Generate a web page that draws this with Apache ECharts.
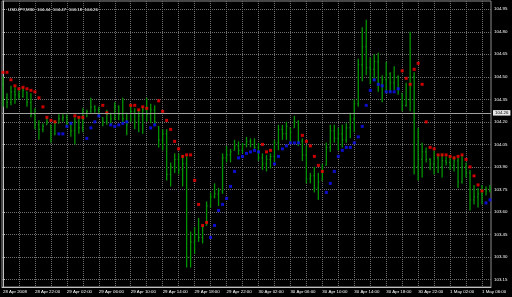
<!DOCTYPE html>
<html><head><meta charset="utf-8">
<script src="https://cdn.jsdelivr.net/npm/echarts@6/dist/echarts.min.js"></script>
<style>html,body{margin:0;padding:0;background:#000;}#c{width:512px;height:297px;}</style>
</head><body><div id="c"></div>
<script>
const titleText = 'USDJPY,M30  104.44  104.47  104.18  104.26';
const bidPrice = 104.26;
const timeLabels = ['28 Apr 2008','28 Apr 22:00','29 Apr 02:00','29 Apr 06:00','29 Apr 10:00','29 Apr 14:00','29 Apr 18:00','29 Apr 22:00','30 Apr 02:00','30 Apr 06:00','30 Apr 10:00','30 Apr 14:00','30 Apr 18:00','30 Apr 22:00','1 May 02:00','1 May 06:00'];
const timeLabelIdx = [0,8,16,24,32,40,48,56,64,72,80,88,96,104,112,120];
const gridIdx = [0,4,8,12,16,20,24,28,32,36,40,44,48,52,56,60,64,68,72,76,80,84,88,92,96,100,104,108,112,116,120];
const priceTicks = [103.15,103.30,103.45,103.60,103.75,103.90,104.05,104.20,104.35,104.50,104.65,104.80,104.95];

const highs = [104.50,104.39,104.44,104.43,104.41,104.43,104.40,104.39,104.29,104.21,
104.19,104.23,104.18,104.21,104.25,104.25,104.25,104.20,104.23,104.23,
104.29,104.28,104.36,104.31,104.30,104.23,104.28,104.26,104.33,104.31,
104.36,104.26,104.31,104.29,104.28,104.30,104.36,104.32,104.31,104.17,
104.15,104.15,103.93,103.99,103.99,103.98,103.97,103.47,103.50,103.56,
103.51,103.67,103.73,103.79,103.76,103.99,104.04,104.02,104.08,104.07,
104.06,104.10,104.09,104.09,104.06,103.99,103.98,103.99,104.08,104.18,
104.18,104.20,104.16,104.24,104.21,104.09,104.04,103.86,103.90,103.86,
103.92,104.06,104.18,104.18,104.16,104.18,104.19,104.26,104.35,104.62,
104.83,104.88,104.63,104.65,104.66,104.51,104.60,104.53,104.57,104.51,
104.39,104.46,104.80,104.53,104.16,104.06,104.03,103.96,104.01,103.98,
103.99,103.97,103.98,103.97,103.96,103.98,103.93,103.88,103.78,103.76,
103.78,103.77,103.78];
const lows = [104.30,104.29,104.31,104.32,104.35,104.36,104.30,104.23,104.15,104.08,
104.13,104.18,104.06,104.11,104.19,104.20,104.17,104.10,104.05,104.12,
104.13,104.23,104.26,104.26,104.23,104.17,104.18,104.18,104.21,104.21,
104.19,104.11,104.20,104.15,104.13,104.12,104.20,104.19,104.18,104.03,
104.01,103.81,103.77,103.86,103.85,103.77,103.23,103.23,103.32,103.40,
103.39,103.51,103.63,103.69,103.64,103.72,103.93,103.93,104.01,103.98,
103.99,104.03,104.03,104.02,103.94,103.88,103.87,103.89,103.93,104.01,
104.08,104.08,104.07,104.16,104.04,103.94,103.79,103.79,103.73,103.68,
103.81,103.91,104.00,104.06,104.01,104.03,104.06,104.09,104.13,104.30,
104.47,104.51,104.45,104.47,104.40,104.33,104.39,104.40,104.41,104.38,
104.27,104.30,104.27,103.85,103.81,103.83,103.93,103.88,103.85,103.86,
103.83,103.91,103.88,103.87,103.76,103.79,103.83,103.61,103.65,103.63,
103.65,103.71,103.73];
const closes = [104.36,104.33,104.40,104.38,104.37,104.41,104.33,104.25,104.18,104.15,
104.17,104.20,104.12,104.19,104.22,104.23,104.19,104.14,104.20,104.16,
104.26,104.27,104.30,104.28,104.24,104.20,104.25,104.22,104.30,104.25,
104.22,104.18,104.27,104.20,104.24,104.28,104.25,104.28,104.20,104.08,
104.12,103.85,103.90,103.95,103.88,103.92,103.30,103.40,103.45,103.43,
103.50,103.64,103.70,103.72,103.74,103.96,103.98,104.00,104.04,104.01,
104.05,104.07,104.05,104.03,103.96,103.92,103.95,103.97,104.06,104.15,
104.12,104.17,104.13,104.20,104.07,103.98,103.82,103.84,103.76,103.80,
103.90,104.03,104.14,104.09,104.12,104.08,104.16,104.22,104.32,104.58,
104.70,104.56,104.55,104.60,104.45,104.48,104.52,104.46,104.50,104.42,
104.31,104.35,104.50,103.90,103.95,104.00,103.95,103.92,103.96,103.90,
103.94,103.93,103.91,103.94,103.80,103.90,103.86,103.68,103.70,103.72,
103.75,103.74,103.76];
const opens = [104.45,104.36,104.33,104.40,104.38,104.37,104.40,104.33,104.25,104.18,
104.15,104.18,104.18,104.12,104.19,104.22,104.23,104.19,104.14,104.20,
104.16,104.26,104.27,104.30,104.28,104.23,104.20,104.25,104.22,104.30,
104.25,104.22,104.20,104.27,104.20,104.24,104.28,104.25,104.28,104.17,
104.08,104.12,103.85,103.90,103.95,103.88,103.92,103.30,103.40,103.45,
103.43,103.51,103.64,103.70,103.72,103.74,103.96,103.98,104.01,104.04,
104.01,104.05,104.07,104.05,104.03,103.96,103.92,103.95,103.97,104.06,
104.15,104.12,104.16,104.16,104.20,104.07,103.98,103.82,103.84,103.76,
103.81,103.91,104.03,104.14,104.09,104.12,104.08,104.16,104.22,104.32,
104.58,104.70,104.56,104.55,104.60,104.45,104.48,104.52,104.46,104.50,
104.39,104.31,104.35,104.50,103.90,103.95,104.00,103.95,103.92,103.96,
103.90,103.94,103.93,103.91,103.94,103.80,103.90,103.86,103.68,103.70,
103.72,103.75,103.74];
const sar = [104.53,104.53,104.48,104.44,104.42,104.43,104.42,104.41,104.40,104.36,
104.30,104.23,104.21,104.20,
104.12,104.12,104.17,104.19,
104.24,104.23,104.23,
104.09,104.16,104.20,104.24,
104.31,104.26,
104.18,104.17,104.18,104.19,104.20,
104.31,104.31,104.28,104.30,104.29,
104.16,104.18,
104.34,104.27,104.21,104.15,104.07,104.02,103.97,103.98,103.98,103.81,103.65,103.51,103.53,
103.43,103.51,103.61,103.65,103.69,103.77,103.87,103.96,103.97,103.99,104.00,104.01,104.00,
104.05,104.00,104.01,
103.92,103.97,104.02,104.04,104.06,104.06,104.06,
104.11,104.07,104.04,103.97,103.91,103.87,
103.73,103.79,103.87,103.97,104.01,104.03,104.03,104.06,104.10,104.17,104.31,104.41,104.48,104.45,104.44,104.40,104.40,104.40,104.42,
104.54,104.49,104.45,104.55,104.59,104.45,104.20,104.03,104.02,103.98,103.98,103.98,103.97,103.96,103.97,103.98,103.95,103.90,103.84,103.78,103.74,
103.66,103.68];
const sarSide = 'dddddddddddddd' + 'uuuu' + 'ddd' + 'uuuu' + 'dd' + 'uuuuu' + 'ddddd' + 'uu' +
  'ddddddddddddd' + 'uuuuuuuuuuuuu' + 'ddd' + 'uuuuuuu' + 'dddddd' +
  'uuuuuuuuuuuuuuuuuuu' + 'ddddddddddddddddddddd' + 'uu';

const ohlc = highs.map((h, i) => [i, opens[i], h, lows[i], closes[i]]);
const sarRed = [], sarBlue = [];
sar.forEach((v, i) => { (sarSide[i] === 'd' ? sarRed : sarBlue).push([i, v]); });

const FONT = 'Liberation Sans';
const gridLine = { show: true, lineStyle: { color: '#6e6e6e', type: [1, 1], width: 1 } };
const chart = echarts.init(document.getElementById('c'), null, { renderer: 'canvas' });
chart.setOption({
  backgroundColor: '#000',
  animation: false,
  title: { text: titleText, left: 3, top: 3, textStyle: { color: '#ffffff', fontSize: 4.4, fontWeight: 'normal', fontFamily: FONT } },
  grid: { left: 1, top: 1, width: 490, height: 286, show: true, borderColor: '#8c8c8c', borderWidth: 1, backgroundColor: 'transparent' },
  xAxis: {
    type: 'value', min: -0.25, max: 122.25,
    axisLine: { show: true, onZero: false, lineStyle: { color: '#c0c0c0' } },
    axisTick: { show: false, customValues: gridIdx },
    splitLine: gridLine,
    axisLabel: { customValues: timeLabelIdx, formatter: v => timeLabels[timeLabelIdx.indexOf(v)], align: 'left', color: '#ffffff', fontSize: 4.4, margin: 2.5, fontFamily: FONT }
  },
  yAxis: {
    type: 'value', position: 'right', min: 103.10, max: 105.005,
    axisLine: { show: true, lineStyle: { color: '#c0c0c0' } },
    axisTick: { show: true, length: 2, customValues: priceTicks, lineStyle: { color: '#c0c0c0' } },
    splitLine: gridLine,
    axisLabel: { customValues: priceTicks, formatter: v => v.toFixed(2), color: '#ffffff', fontSize: 4.4, margin: 3, fontFamily: FONT }
  },
  series: [
    {
      type: 'custom', data: ohlc, z: 2,
      renderItem: (params, api) => {
        const x = api.value(0);
        const o = api.coord([x, api.value(1)]);
        const h = api.coord([x, api.value(2)]);
        const l = api.coord([x, api.value(3)]);
        const c = api.coord([x, api.value(4)]);
        const st = { stroke: '#009400', lineWidth: 1.3 };
        const tk = { stroke: '#1aa81a', lineWidth: 0.8 };
        return { type: 'group', children: [
          { type: 'line', shape: { x1: h[0], y1: h[1], x2: l[0], y2: l[1] }, style: st },
          { type: 'line', shape: { x1: o[0] - 1, y1: o[1], x2: o[0], y2: o[1] }, style: tk },
          { type: 'line', shape: { x1: c[0], y1: c[1], x2: c[0] + 1, y2: c[1] }, style: tk }
        ] };
      }
    },
    {
      type: 'scatter', data: sarRed, symbol: 'rect', symbolSize: 3, z: 3,
      itemStyle: { color: '#ff0000' },
      markLine: {
        symbol: 'none', silent: true, animation: false,
        data: [{ yAxis: bidPrice }],
        lineStyle: { color: '#a0a0a0', type: 'solid', width: 1 },
        label: { show: true, position: 'end', formatter: bidPrice.toFixed(2), color: '#000', backgroundColor: '#e6e6e6', fontSize: 4.4, fontFamily: FONT, padding: [1, 2, 0.5, 2], distance: 2 }
      }
    },
    { type: 'scatter', data: sarBlue, symbol: 'rect', symbolSize: 3, z: 3, itemStyle: { color: '#1010ff' } }
  ]
});
</script></body></html>
